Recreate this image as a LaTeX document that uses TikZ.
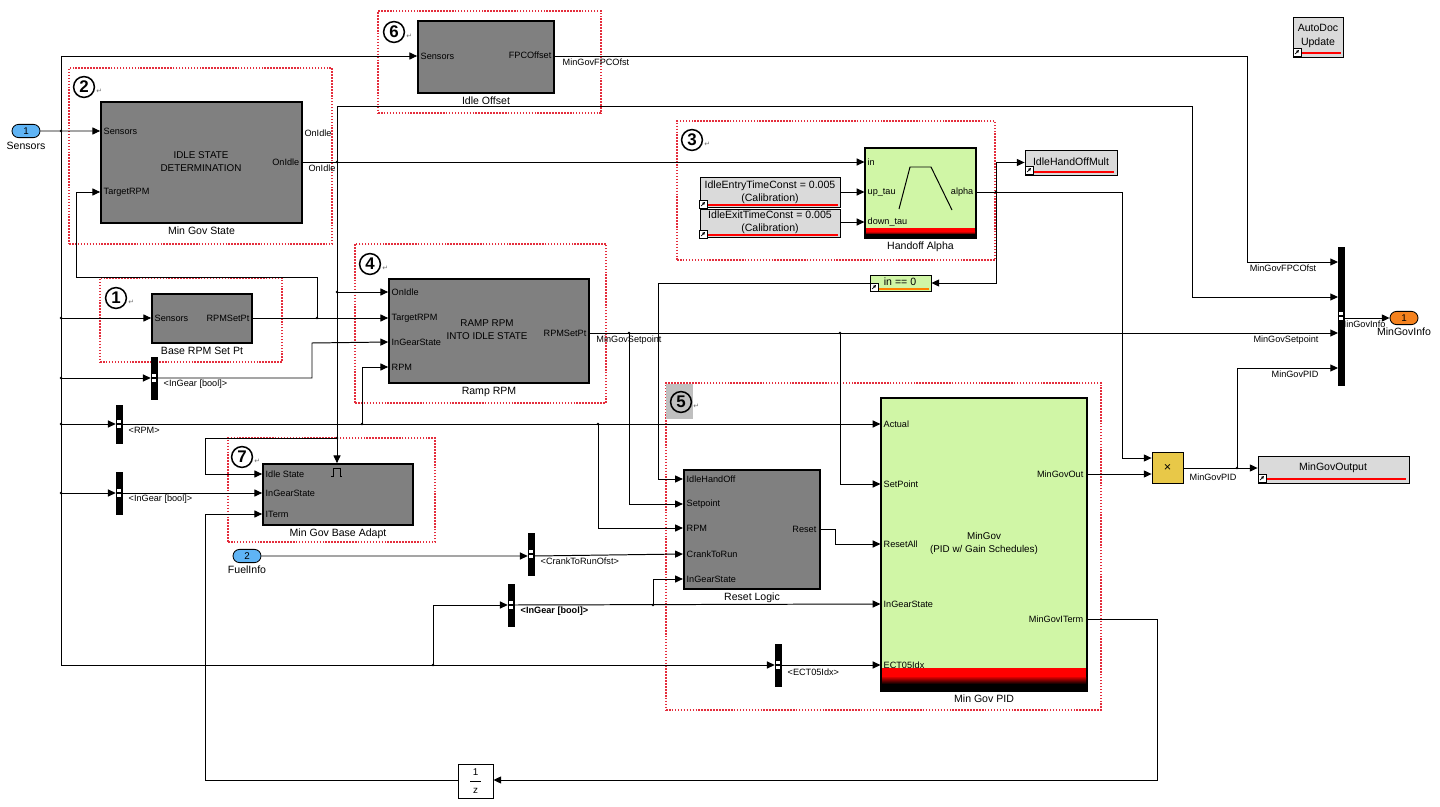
\documentclass[tikz,border=0pt]{standalone}
\usepackage{fontspec}
\setmainfont{Liberation Sans}
\newfontfamily\symfont{DejaVu Sans}
\usepackage{tikz}
\usetikzlibrary{shapes,arrows.meta,positioning,calc,fit}
\definecolor{blkgray}{RGB}{128,128,128}
\definecolor{libgray}{RGB}{218,218,218}
\definecolor{simgreen}{RGB}{208,246,166}
\definecolor{inblue}{RGB}{95,180,245}
\definecolor{outorange}{RGB}{245,130,30}
\definecolor{prodyel}{RGB}{232,200,72}
\definecolor{grpred}{RGB}{228,45,60}
\tikzstyle{blk} = [draw=black, line width=1.2pt, fill=blkgray, inner sep=0pt]
\tikzstyle{grn} = [draw=black, line width=0.8pt, fill=simgreen, inner sep=0pt]
\tikzstyle{lib} = [draw=black, line width=0.6pt, fill=libgray, inner sep=0pt]
\tikzstyle{ctr} = [align=center, inner sep=0pt, font=\fontsize{7}{9.3}\selectfont]
\tikzstyle{libtxt} = [align=center, inner sep=0pt, font=\fontsize{7.5}{9.3}\selectfont]
\tikzstyle{grp} = [draw=grpred, densely dotted, line width=1.1pt, inner sep=0pt]
\tikzstyle{pl} = [font=\fontsize{6.5}{7}\selectfont, inner sep=1pt]
\tikzstyle{ttl} = [font=\fontsize{7.5}{8}\selectfont, inner sep=1pt]
\tikzstyle{sig} = [line width=0.7pt, -{Triangle[length=5.5pt,width=5pt]}]
\tikzstyle{wire} = [line width=0.7pt]
\tikzstyle{bar} = [fill=black, draw=black, inner sep=0pt]
\tikzstyle{num} = [circle, draw=black, line width=1.1pt, inner sep=0pt, minimum size=0.52cm, font=\bfseries\fontsize{12}{12}\selectfont]
\tikzstyle{ret} = [font=\symfont\fontsize{5}{5}\selectfont, text=black!55, inner sep=0pt, anchor=west]
\tikzstyle{inport} = [rounded rectangle, draw=black, line width=0.6pt, fill=inblue, minimum width=0.7cm, minimum height=0.33cm, inner sep=0pt, font=\fontsize{7}{7}\selectfont]
\tikzstyle{outport} = [inport, fill=outorange]
\newcommand{\lnkicon}[2]{\draw[fill=white, line width=0.5pt] (#1,#2) rectangle ++(8,8);
  \draw[line width=0.5pt, -{Triangle[length=2pt,width=2pt]}] (#1+2,#2+6) -- (#1+6,#2+2);}
\newcommand{\dmxmark}[2]{\fill[white] (#1-2,#2-4) rectangle (#1+2,#2-0.7);
  \fill[white] (#1-2,#2+0.7) rectangle (#1+2,#2+4);}
\begin{document}
\begin{tikzpicture}[x=0.025cm,y=-0.025cm]
\useasboundingbox (0,0) rectangle (1440,807);

% numbered frames
\node[grp, fit={(69,68) (332,244)}] (grp2) {};
\node[grp, fit={(378,11) (601,113)}] (grp6) {};
\node[grp, fit={(677,121) (995,260)}] (grp3) {};
\node[grp, fit={(100,278) (282,362)}] (grp1) {};
\node[grp, fit={(355,244) (606,403)}] (grp4) {};
\node[grp, fit={(228,438) (435,542)}] (grp7) {};
\node[grp, fit={(666,383) (1101,710)}] (grp5) {};
\fill[black!25] (666,384) rectangle (693,419);
\node[num] (n2) at (84,87) {2};
\node[num] (n6) at (394,32) {6};
\node[num] (n3) at (692,140) {3};
\node[num] (n1) at (116,298) {1};
\node[num] (n4) at (370,264) {4};
\node[num] (n7) at (242,457) {7};
\node[num] (n5) at (681,402) {5};
\foreach \n in {n1,n2,n3,n4,n5,n6,n7}
  \node[ret] (r\n) at ([shift={(1,4)}]\n.east) {↵};

% blocks
\node[blk, fit={(101,102) (302,223)}] (mgs) {};
\node[ctr] (mgsTxt) at (201,161.5) {IDLE STATE\\DETERMINATION};
\node[ttl, below=1pt of mgs] (mgsT) {Min Gov State};
\node[blk, fit={(418,21) (554,93)}] (ioff) {};
\node[ttl, below=1pt of ioff] (ioffT) {Idle Offset};
\node[blk, fit={(152,294) (252,343)}] (brpm) {};
\node[ttl, below=1pt of brpm] (brpmT) {Base RPM Set Pt};
\node[blk, fit={(389,279) (589,383)}] (ramp) {};
\node[ctr] (rampTxt) at (487,329.5) {RAMP RPM\\INTO IDLE STATE};
\node[ttl, below=1pt of ramp] (rampT) {Ramp RPM};
\node[blk, fit={(263,464) (413,525)}] (bad) {};
\node[ttl, below=1pt of bad] (badT) {Min Gov Base Adapt};
\node[blk, line width=1.6pt, fit={(684,470) (820,589)}] (rst) {};
\node[ttl, below=1pt of rst] (rstT) {Reset Logic};
\node[grn, fit={(865,148) (976,238)}] (hoa) {};
\node[ttl, below=1pt of hoa] (hoaT) {Handoff Alpha};
\node[grn, fit={(881,398) (1087,691)}] (pid) {};
\node[ctr] (pidTxt) at (984,543.5) {MinGov\\(PID w/ Gain Schedules)};
\node[ttl, below=1pt of pid] (pidT) {Min Gov PID};
\draw[wire] (899,209) -- (910,167) -- (931,167) -- (952,210);
\fill[red] (866,228) rectangle (975,231.5);
\shade[top color=red, bottom color=black] (866,231.5) rectangle (975,234.5);
\fill[black] (866,234.5) rectangle (975,237);
\fill[red] (882,668) rectangle (1086,677);
\shade[top color=red!85!black, bottom color=black] (882,677) rectangle (1086,684);
\fill[black] (882,684) rectangle (1086,690);
\draw[line width=0.6pt] (331,476) -- (333,476) -- (333,468) -- (340,468) -- (340,476) -- (342,476);

% library blocks
\node[lib, fit={(700,177) (840,207)}] (calA) {};
\node[libtxt] (calATxt) at (770,192) {IdleEntryTimeConst = 0.005\\(Calibration)};
\node[lib, fit={(700,209) (840,237)}] (calB) {};
\node[libtxt] (calBTxt) at (770,222) {IdleExitTimeConst = 0.005\\(Calibration)};
\node[lib, fit={(1025,150) (1117,175)}] (ihm) {};
\node[libtxt] (ihmTxt) at (1071,162) {IdleHandOffMult};
\node[lib, fit={(1293,17) (1343,57)}] (adu) {};
\node[libtxt] (aduTxt) at (1318,36) {AutoDoc\\Update};
\node[lib, fit={(1258,456) (1409,483)}] (mgo) {};
\node[libtxt] (mgoTxt) at (1333,467.5) {MinGovOutput};
\node[grn, line width=0.6pt, fit={(870,275) (931,291)}] (iszero) {};
\node[libtxt] (iszTxt) at (900,282) {in == 0};
\node[draw=black, line width=0.6pt, fill=prodyel, inner sep=0pt, fit={(1152,452) (1183,483)}] (prod) {};
\node[ctr, font=\fontsize{9}{9}\selectfont] (prodTxt) at (1167.5,467.5) {×};
\node[draw=black, line width=0.6pt, fill=white, inner sep=0pt, fit={(458,764) (493,798)}] (ud) {};
\node[ctr] (udNum) at (475.5,772) {1};
\node[ctr] (udDen) at (475.5,791) {z};
\draw[line width=0.4pt] (470,781) -- (481,781);
\draw[red, line width=0.9pt] (708,205) -- (838,205);
\draw[red, line width=0.9pt] (708,235) -- (838,235);
\draw[red, line width=0.9pt] (1033,172) -- (1114,172);
\draw[red, line width=0.9pt] (1301,53) -- (1341,53);
\draw[red, line width=0.9pt] (1266,479) -- (1406,479);
\draw[orange, line width=0.9pt] (878,289) -- (929,289);
\lnkicon{699}{200}
\lnkicon{699}{230}
\lnkicon{1025}{166}
\lnkicon{1293}{48}
\lnkicon{1258}{474}
\lnkicon{870}{283}

% selectors and bus
\node[pl] (lblInfo) at (1362,324) {MinGovInfo};
\node[bar, fit={(151,357) (157,399)}] (dmxA) {};
\node[bar, fit={(116,405) (122,443)}] (dmxR) {};
\node[bar, fit={(116,472) (122,514)}] (dmxB) {};
\node[bar, fit={(528,533) (534,575)}] (dmxK) {};
\node[bar, fit={(508,584) (514,626)}] (dmxC) {};
\node[bar, fit={(775,644) (781,686)}] (dmxE) {};
\node[bar, fit={(1338,247) (1344,385)}] (bus) {};
\dmxmark{154}{378}
\dmxmark{119}{424}
\dmxmark{119}{493}
\dmxmark{531}{554}
\dmxmark{511}{605}
\dmxmark{778}{665}
\dmxmark{1341}{316}

% ports
\node[inport] (inSens) at (26,131) {1};
\node[ttl, below=2pt of inSens] (inSensL) {Sensors};
\node[inport] (inFuel) at (247,556) {2};
\node[ttl, below=1pt of inFuel] (inFuelL) {FuelInfo};
\node[outport] (outInfo) at (1404,318) {1};
\node[ttl, below=1pt of outInfo] (outInfoL) {MinGovInfo};

% port labels
\node[pl, anchor=west] (mgsSn) at (102,131) {Sensors};
\node[pl, anchor=west] (mgsTR) at (102,192) {TargetRPM};
\node[pl, anchor=east] (mgsOI) at (301,162) {OnIdle};
\node[pl] (lblOn1) at (318,133) {OnIdle};
\node[pl] (lblOn2) at (322,168) {OnIdle};
\node[pl, anchor=west] (ioffSn) at (419,56) {Sensors};
\node[pl, anchor=east] (ioffFP) at (553,55) {FPCOffset};
\node[pl, anchor=west] (lblFPC) at (561,62) {MinGovFPCOfst};
\node[pl, anchor=west] (hoaIn) at (866,162) {in};
\node[pl, anchor=west] (hoaUT) at (866,192) {up\_tau};
\node[pl, anchor=west] (hoaDT) at (866,222) {down\_tau};
\node[pl, anchor=east] (hoaAl) at (975,192) {alpha};
\node[pl, anchor=west] (brpmSn) at (153,318) {Sensors};
\node[pl, anchor=east] (brpmSP) at (251,318) {RPMSetPt};
\node[pl, anchor=west] (lblIGa) at (162,384) {<InGear [bool]>};
\node[pl, anchor=west] (rampOI) at (390,292) {OnIdle};
\node[pl, anchor=west] (rampTR) at (390,318) {TargetRPM};
\node[pl, anchor=west] (rampIG) at (390,342) {InGearState};
\node[pl, anchor=west] (rampRPM) at (390,367) {RPM};
\node[pl, anchor=east] (rampOut) at (588,333) {RPMSetPt};
\node[pl] (lblSP1) at (629,340) {MinGovSetpoint};
\node[pl, anchor=west] (lblRPM) at (127,430) {<RPM>};
\node[pl, anchor=west] (lblIGb) at (127,499) {<InGear [bool]>};
\node[pl, anchor=west] (badIS) at (264,474) {Idle State};
\node[pl, anchor=west] (badIG) at (264,493) {InGearState};
\node[pl, anchor=west] (badIT) at (264,514) {ITerm};
\node[pl, anchor=west] (lblCK) at (539,561) {<CrankToRunOfst>};
\node[pl, anchor=west, font=\bfseries\fontsize{6.5}{7}\selectfont] (lblIGc) at (519,611) {<InGear [bool]>};
\node[pl, anchor=west] (rstIH) at (685,479) {IdleHandOff};
\node[pl, anchor=west] (rstSP) at (685,504) {Setpoint};
\node[pl, anchor=west] (rstRPM) at (685,528) {RPM};
\node[pl, anchor=west] (rstCK) at (685,554) {CrankToRun};
\node[pl, anchor=west] (rstIG) at (685,579) {InGearState};
\node[pl, anchor=east] (rstRes) at (818,529) {Reset};
\node[pl, anchor=west] (pidAc) at (882,424) {Actual};
\node[pl, anchor=west] (pidSP) at (882,484) {SetPoint};
\node[pl, anchor=west] (pidRA) at (882,544) {ResetAll};
\node[pl, anchor=west] (pidIG) at (882,604) {InGearState};
\node[pl, anchor=west] (pidEC) at (882,665) {ECT05Idx};
\node[pl, anchor=east] (pidOut) at (1085,474) {MinGovOut};
\node[pl, anchor=east] (pidIT) at (1085,619) {MinGovITerm};
\node[pl, anchor=west] (lblECT) at (786,672) {<ECT05Idx>};
\node[pl] (lblPID1) at (1213,477) {MinGovPID};
\node[pl] (lblFPC2) at (1283,268) {MinGovFPCOfst};
\node[pl] (lblSP2) at (1286,340) {MinGovSetpoint};
\node[pl] (lblPID2) at (1295,374) {MinGovPID};

% helper coordinates
\coordinate (jS0) at (61,56);
\coordinate (jS1) at (61,131);
\coordinate (jS2) at (61,318);
\coordinate (jS3) at (61,378);
\coordinate (jS4) at (61,424);
\coordinate (jS5) at (61,493);
\coordinate (jS6) at (61,665);
\coordinate (jE) at (433,665);
\coordinate (jOn) at (337,162);
\coordinate (jOnB) at (337,292);
\coordinate (jOnC) at (337,438);
\coordinate (cOn) at (1192,106);
\coordinate (cIS) at (205,474);
\coordinate (jT) at (317,318);
\coordinate (cT) at (76,277);
\coordinate (cIG) at (312,343);
\coordinate (jR1) at (362,424);
\coordinate (jR2) at (598,424);
\coordinate (jSP1) at (629,333);
\coordinate (jSP2) at (840,333);
\coordinate (jG) at (653,605);
\coordinate (jA) at (996,192);
\coordinate (cA) at (1122,458);
\coordinate (cZ) at (658,479);
\coordinate (cRs) at (835,544);
\coordinate (jP) at (1237,468);
\coordinate (cFPC) at (1247,262);
\coordinate (cIT) at (1157,780);
\coordinate (cUD) at (205,514);
\coordinate (busIn1) at (1338,262);
\coordinate (busIn2) at (1338,297);
\coordinate (busIn3) at (1338,333);
\coordinate (busIn4) at (1338,368);

% sensor bus
\draw[wire] (jS0) -- (jS6);
\draw[sig] (inSens) -- (mgs.west |- mgsSn);
\draw[sig] (jS0) -- (ioff.west |- jS0);
\draw[sig] (jS2) -- (brpm.west |- jS2);
\draw[sig] (jS3) -- (dmxA.west |- jS3);
\draw[sig] (jS4) -- (dmxR.west |- jS4);
\draw[sig] (jS5) -- (dmxB.west |- jS5);
\draw[sig] (jS6) -- (dmxE.west |- jS6);
\draw[sig] (jE) |- (dmxC.west);
\draw[sig] (inFuel) -- (dmxK.west |- inFuel);

% OnIdle
\draw[wire] (mgs.east |- jOn) -- (jOn);
\draw[sig] (jOn) -- (hoa.west |- hoaIn);
\draw[sig] (jOn) |- (cOn) |- (busIn2);
\draw[sig] (jOn) -- (bad.north -| jOn);
\draw[sig] (jOnB) -- (ramp.west |- rampOI);
\draw[sig] (jOnC) -| (cIS) -- (bad.west |- badIS);

% target rpm
\draw[wire] (brpm.east |- jT) -- (jT);
\draw[sig] (jT) -- (ramp.west |- rampTR);
\draw[sig] (jT) |- (cT) |- (mgs.west |- mgsTR);
\draw[sig] (dmxA.east |- jS3) -| (cIG) -- (ramp.west |- rampIG);

% rpm
\draw[sig] (dmxR.east |- jS4) -- (pid.west |- pidAc);
\draw[sig] (jR1) |- (ramp.west |- rampRPM);
\draw[sig] (jR2) |- (rst.west |- rstRPM);
\draw[sig] (dmxB.east |- jS5) -- (bad.west |- badIG);

% reset logic and pid
\draw[sig] (dmxK.east |- inFuel) -- (rst.west |- rstCK);
\draw[sig] (dmxC.east) -- (pid.west |- pidIG);
\draw[sig] (jG) |- (rst.west |- rstIG);
\draw[sig] (dmxE.east |- jS6) -- (pid.west |- pidEC);
\draw[sig] (ramp.east |- jSP1) -- (busIn3);
\draw[sig] (jSP1) |- (rst.west |- rstSP);
\draw[sig] (jSP2) |- (pid.west |- pidSP);
\draw[sig] (rst.east |- rstRes) -| (cRs) -- (pid.west |- pidRA);
\draw[sig] (iszero.west) -| (cZ) -- (rst.west |- rstIH);

% handoff
\draw[sig] (calA.east |- hoaUT) -- (hoa.west |- hoaUT);
\draw[sig] (calB.east |- hoaDT) -- (hoa.west |- hoaDT);
\draw[wire] (hoa.east |- jA) -- (jA);
\draw[sig] (jA) |- (ihm.west);
\draw[sig] (jA) |- (iszero.east);
\draw[sig] (jA) -| (cA) -- (prod.west |- cA);

% outputs
\draw[sig] (ioff.east |- jS0) -| (cFPC) -- (busIn1);
\draw[sig] (pid.east |- pidOut) -- (prod.west |- pidOut);
\draw[sig] (prod.east |- jP) -- (mgo.west |- jP);
\draw[sig] (jP) |- (busIn4);
\draw[sig] (bus.east |- outInfo) -- (outInfo);
\draw[sig] (pid.east |- pidIT) -| (cIT) -- (ud.east |- cIT);
\draw[sig] (ud.west |- cIT) -| (cUD) -- (bad.west |- badIT);

\foreach \j in {jS1,jS2,jS3,jS4,jS5,jE,jOn,jOnB,jOnC,jT,jR1,jR2,jSP1,jSP2,jG,jA,jP}
  \fill (\j) circle (1pt);
\end{tikzpicture}
\end{document}
